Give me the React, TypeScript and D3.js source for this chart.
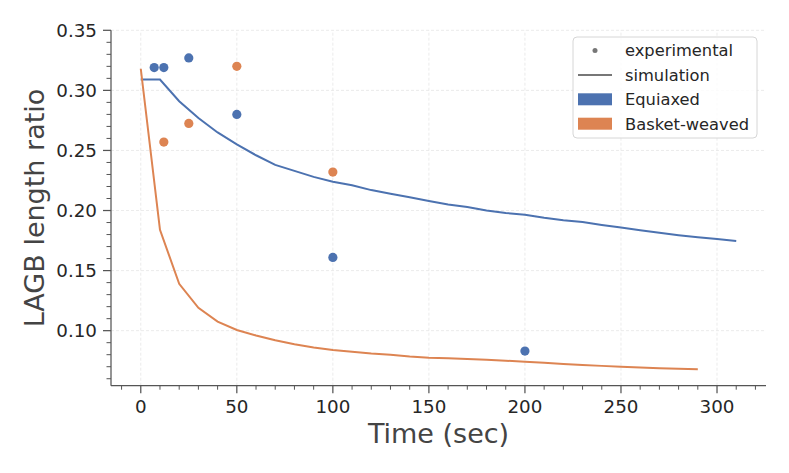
import * as d3 from 'd3'

const W = 789
const H = 473

// experimental points
const eqExpT = [7, 12, 25, 50, 100, 200]
const eqExpV = [0.319, 0.319, 0.327, 0.28, 0.161, 0.083]
const bwExpT = [12, 25, 50, 100]
const bwExpV = [0.257, 0.2725, 0.32, 0.232]

// simulation curves
const eqSimT = [0, 10, 20, 30, 40, 50, 60, 70, 80, 90, 100, 110, 120, 130, 140, 150, 160, 170, 180, 190, 200, 210, 220, 230, 240, 250, 260, 270, 280, 290, 300, 310]
const eqSimV = [0.309, 0.309, 0.291, 0.277, 0.265, 0.255, 0.246, 0.238, 0.233, 0.228, 0.224, 0.221, 0.217, 0.214, 0.211, 0.208, 0.205, 0.203, 0.2, 0.198, 0.1965, 0.194, 0.192, 0.1905, 0.188, 0.1858, 0.1835, 0.1815, 0.1795, 0.1778, 0.1762, 0.1747]
const bwSimT = [0, 10, 20, 30, 40, 50, 60, 70, 80, 90, 100, 110, 120, 130, 140, 150, 160, 170, 180, 190, 200, 210, 220, 230, 240, 250, 260, 270, 280, 290]
const bwSimV = [0.318, 0.184, 0.139, 0.119, 0.1075, 0.1006, 0.096, 0.092, 0.0887, 0.086, 0.084, 0.0825, 0.081, 0.08, 0.0785, 0.0775, 0.077, 0.0765, 0.0758, 0.075, 0.0742, 0.0733, 0.0723, 0.0714, 0.0707, 0.07, 0.0694, 0.0688, 0.0683, 0.0678]

const xTicks = [0, 50, 100, 150, 200, 250, 300]
const yTicks = [0.1, 0.15, 0.2, 0.25, 0.3, 0.35]

const legendItems = ['experimental', 'simulation', 'Equiaxed', 'Basket-weaved']

const BLUE = '#4c72b0'
const ORANGE = '#dd8452'
const FONT = 'DejaVu Sans, sans-serif'

export default function App() {
  const x = d3.scaleLinear().domain([-15.5, 325.5]).range([111, 766])
  const y = d3.scaleLinear().domain([0.0542, 0.35]).range([385.7, 30.3])

  const xMinor = d3.range(-10, 326, 10).filter(v => v % 50 !== 0)
  const yMinor = d3.range(0.06, 0.351, 0.01).filter(v => Math.abs(v * 100 - Math.round(v * 20) * 5) > 0.01)

  const line = d3.line<[number, number]>().x(d => x(d[0])).y(d => y(d[1]))
  const eqPath = line(eqSimT.map((t, i) => [t, eqSimV[i]] as [number, number]))
  const bwPath = line(bwSimT.map((t, i) => [t, bwSimV[i]] as [number, number]))

  const [x0, x1] = x.range()
  const [y0, y1] = y.range()

  const lx = 573, ly = 37
  const rowY = (i: number) => 50.5 + i * 24.4

  return (
    <svg width={W} height={H} style={{ position: 'absolute', left: 0, top: 0, background: '#fff' }} fontFamily={FONT}>
      {/* grid */}
      {xTicks.map(t => (
        <line key={'gx' + t} x1={x(t)} x2={x(t)} y1={y0} y2={y1} stroke="#e6e6e6" strokeWidth={0.8} strokeDasharray="3,2" />
      ))}
      {yTicks.map(t => (
        <line key={'gy' + t} x1={x0} x2={x1} y1={y(t)} y2={y(t)} stroke="#e6e6e6" strokeWidth={0.8} strokeDasharray="3,2" />
      ))}

      {/* simulation lines */}
      <path d={eqPath!} fill="none" stroke={BLUE} strokeWidth={2} />
      <path d={bwPath!} fill="none" stroke={ORANGE} strokeWidth={2} />

      {/* experimental */}
      {eqExpT.map((t, i) => (
        <circle key={'e' + i} cx={x(t)} cy={y(eqExpV[i])} r={4.6} fill={BLUE} />
      ))}
      {bwExpT.map((t, i) => (
        <circle key={'b' + i} cx={x(t)} cy={y(bwExpV[i])} r={4.6} fill={ORANGE} />
      ))}

      {/* spines */}
      <line x1={x0} x2={x0} y1={y0} y2={y1} stroke="#555" strokeWidth={1.25} />
      <line x1={x0} x2={x1} y1={y0} y2={y0} stroke="#555" strokeWidth={1.25} />

      {/* x ticks */}
      {xTicks.map(t => (
        <g key={'xt' + t}>
          <line x1={x(t)} x2={x(t)} y1={y0} y2={y0 + 7.5} stroke="#555" strokeWidth={1.25} />
          <text x={x(t)} y={y0 + 27} textAnchor="middle" fontSize={18.3} fill="#262626">{t}</text>
        </g>
      ))}
      {xMinor.map(t => (
        <line key={'xm' + t} x1={x(t)} x2={x(t)} y1={y0} y2={y0 + 4} stroke="#555" strokeWidth={1} />
      ))}

      {/* y ticks */}
      {yTicks.map(t => (
        <g key={'yt' + t}>
          <line x1={x0} x2={x0 - 8} y1={y(t)} y2={y(t)} stroke="#555" strokeWidth={1.25} />
          <text x={x0 - 14} y={y(t)} dy="0.36em" textAnchor="end" fontSize={18.3} fill="#262626">{t.toFixed(2)}</text>
        </g>
      ))}
      {yMinor.map(t => (
        <line key={'ym' + t.toFixed(2)} x1={x0} x2={x0 - 4.5} y1={y(t)} y2={y(t)} stroke="#555" strokeWidth={1} />
      ))}

      {/* axis labels */}
      <text x={(x0 + x1) / 2} y={443} textAnchor="middle" fontSize={27} fill="#444">Time (sec)</text>
      <text transform={`translate(44,${(y0 + y1) / 2}) rotate(-90)`} textAnchor="middle" fontSize={27} fill="#444">LAGB length ratio</text>

      {/* legend */}
      <rect x={lx} y={ly} width={184} height={101} rx={4} fill="#fff" fillOpacity={0.8} stroke="#d6d6d6" strokeWidth={1} />
      <circle cx={595} cy={rowY(0)} r={2.5} fill="#777" />
      <line x1={578} x2={612} y1={rowY(1)} y2={rowY(1)} stroke="#777" strokeWidth={2} />
      <rect x={578} y={rowY(2) - 6} width={34} height={12} fill={BLUE} />
      <rect x={578} y={rowY(3) - 6} width={34} height={12} fill={ORANGE} />
      {legendItems.map((s, i) => (
        <text key={s} x={625} y={rowY(i)} dy="0.36em" fontSize={16.3} fill="#262626">{s}</text>
      ))}
    </svg>
  )
}
